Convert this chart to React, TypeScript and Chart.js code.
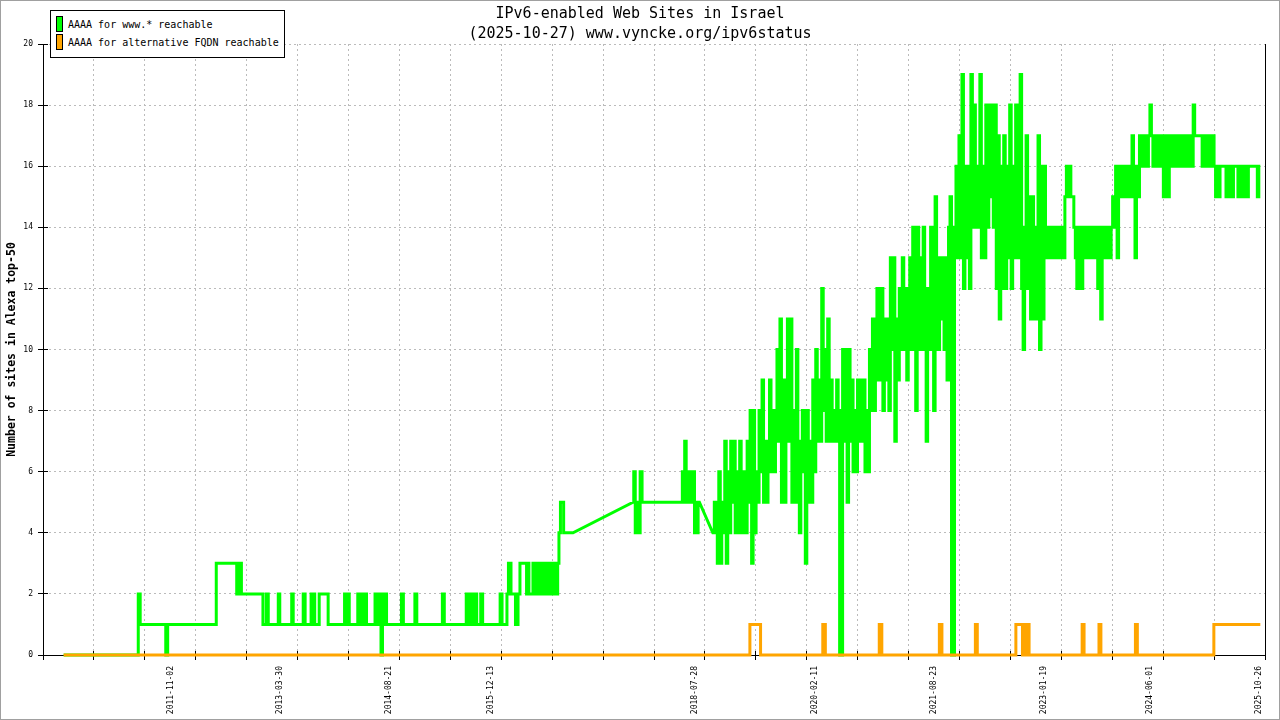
import React, { useEffect, useRef } from 'react';
import { Chart, registerables } from 'chart.js';

Chart.register(...registerables);

const MONO = '"DejaVu Sans Mono", "Liberation Mono", monospace';

// ---- texts ----
const titleLines = ['IPv6-enabled Web Sites in Israel', '(2025-10-27) www.vyncke.org/ipv6status'];
const yAxisTitle = 'Number of sites in Alexa top-50';
const seriesLabels = ['AAAA for www.* reachable', 'AAAA for alternative FQDN reachable'];
const seriesColors = ['#00ff00', '#ffa500'];

// ---- axes ----
const xTickLabels = [
  '2011-11-02', '2013-03-30', '2014-08-21', '2015-12-13', '2018-07-28',
  '2020-02-11', '2021-08-23', '2023-01-19', '2024-06-01', '2025-10-26',
];
const xAxisStart = '2010-03-13';
const xAxisEnd = '2025-11-23';
const xGridDivisions = 24;
const yMin = 0;
const yMax = 20;
const yStep = 2;

// ---- data: runs of [value, days held], starting at seriesStart ----
const seriesStart = '2010-06-18';

const greenRuns2010to2016: [number, number][] = [
  [0, 350], [2, 9], [1, 120], [0, 9], [1, 228], [3, 96], [2, 5], [3, 5], [2, 5], [3, 7], [2, 101],
  [1, 16], [2, 9], [1, 47], [2, 7], [1, 56], [2, 7], [1, 47], [2, 9], [1, 28], [2, 7], [1, 5], [2, 5], [1, 21], [2, 42],
  [1, 77], [2, 5], [1, 5], [2, 12], [1, 40], [2, 5], [1, 7], [2, 5], [1, 7], [2, 5], [1, 7], [2, 5], [1, 40], [2, 9],
  [1, 12], [2, 7], [0, 7], [2, 7], [1, 5], [2, 7],
  [1, 70], [2, 9], [1, 54], [2, 9], [1, 120], [2, 9], [1, 103], [2, 7], [1, 5], [2, 9], [1, 5], [2, 9], [1, 5], [2, 9],
  [1, 19], [2, 9], [1, 82], [2, 9], [1, 23],
  [2, 7], [3, 12], [2, 21], [1, 12], [2, 9], [3, 31],
  [2, 6], [3, 5], [2, 19], [3, 5], [2, 6], [3, 6], [2, 5], [3, 7], [2, 6], [3, 5], [2, 6], [3, 6],
  [2, 7], [3, 5], [2, 6], [3, 6], [2, 5], [3, 7], [2, 6], [3, 5], [2, 6], [3, 5], [2, 6], [3, 6],
  [4, 7], [5, 15], [4, 44],
];
const greenGap2016Days = 282;
const greenRuns2017to2018: [number, number][] = [
  [5, 3], [6, 7], [4, 7], [5, 9], [4, 7], [6, 9], [5, 189],
  [6, 6], [5, 5], [7, 7], [6, 5], [5, 5], [6, 7], [5, 5], [6, 7], [5, 5], [6, 5], [4, 7], [5, 5], [4, 5], [5, 6],
];
const greenGap2018Days = 63;
const weeklyStepDays = 7;
// weekly samples from late 2018 onwards
const greenWeeklyA = [
  4, 5, 4, 3, 6, 3, 5, 4, 7, 3,
  6, 4, 7, 5, 7, 4, 6, 4, 7, 5,
  4, 6, 4, 7, 5, 8, 3, 8, 4, 6,
  5, 8, 6, 9, 5, 7, 5, 7, 9, 6,
  8, 6, 8, 10, 7, 11, 5, 9, 5, 9,
  11, 7, 11, 5, 8, 5, 10, 6, 4, 7,
  8, 6, 3, 8, 5, 7, 5, 9, 6, 10,
  7, 9, 7, 12, 8, 10, 7, 11, 7, 9,
  7, 8, 7, 9, 8, 0, 0, 10, 7, 10,
  5, 10, 7, 9, 6, 8, 6, 9, 7, 9,
];
const greenWeeklyB = [
  7, 9, 6, 8, 6, 10, 8, 11, 8, 11,
  12, 9, 11, 12, 8, 11, 9, 11, 8, 13,
  10, 13, 7, 11, 9, 12, 10, 13, 10, 12,
  9, 12, 13, 10, 14, 11, 8, 14, 10, 13,
  10, 14, 11, 7, 12, 10, 14, 11, 8, 15,
  12, 10, 13, 11, 13, 10, 13, 9, 14, 15,
  0, 0, 14, 16, 13, 17, 13, 19, 12, 16,
  13, 16, 12, 19, 14, 18, 14, 16, 14, 19,
  13, 16, 13, 18, 14, 18, 15, 18, 14, 18,
  12, 17, 11, 16, 12, 17, 12, 16, 13, 18,
];
const greenWeeklyC = [
  12, 16, 13, 18, 13, 16, 19, 12, 10, 14,
  17, 12, 15, 11, 15, 11, 14, 11, 17, 10,
  16, 11, 16, 13, 14, 13, 14, 13, 14, 13,
  14, 13, 14, 13, 14, 13, 15, 16, 15, 16,
  15, 15, 14, 13, 12, 14, 13, 12, 14, 13,
  14, 13, 14, 13, 14, 13, 14, 13, 12, 14,
  11, 14, 13, 14, 13, 14, 13, 14, 15, 14,
  16, 13, 16, 15, 16, 15, 16, 15, 16, 15,
  16, 17, 15, 13, 16, 15, 17, 16, 17, 16,
  17, 16, 17, 18, 17, 16, 17, 16, 17, 16,
];
const greenWeeklyD = [
  17, 16, 15, 17, 16, 15, 17, 16, 17, 16,
  17, 17, 16, 17, 16, 17, 17, 16, 17, 16,
  17, 16, 18, 17, 17, 17, 17, 17, 16, 17,
  16, 17, 16, 17, 16, 17, 16, 15, 16, 15,
  16, 16, 16, 16, 15, 16, 15, 16, 15, 16,
  16, 16, 15, 16, 15, 16, 15, 16, 15, 16,
  16, 16, 16, 16, 16, 15, 16,
];

const orangeRuns: [number, number][] = [
  [0, 3220], [1, 50], [0, 292], [1, 12], [0, 253], [1, 12], [0, 270], [1, 12], [0, 157], [1, 9],
  [0, 181], [1, 31], [0, 5], [1, 7], [0, 5], [1, 14], [0, 249], [1, 9], [0, 70], [1, 9],
  [0, 162], [1, 9], [0, 359], [1, 218],
];

// ---- helpers ----
const DAY_MS = 86400000;
const toDay = (s: string) => Date.parse(s + 'T00:00:00Z') / DAY_MS;

function expandRuns(start: string, runs: [number | null, number][]) {
  const pts: { x: number; y: number }[] = [];
  let t = toDay(start);
  for (const [v, d] of runs) {
    if (v !== null) {
      pts.push({ x: t, y: v });
      pts.push({ x: t + d, y: v });
    }
    t += d;
  }
  return pts;
}

const greenAllRuns: [number | null, number][] = [
  ...greenRuns2010to2016,
  [null, greenGap2016Days],
  ...greenRuns2017to2018,
  [null, greenGap2018Days],
  ...[...greenWeeklyA, ...greenWeeklyB, ...greenWeeklyC, ...greenWeeklyD].map(
    (v) => [v, weeklyStepDays] as [number, number]
  ),
];

const labelByDay = new Map<number, string>(xTickLabels.map((d) => [toDay(d), d]));
const GRID = '#bbbbbb';
const NONE = 'rgba(0,0,0,0)';

const framePlugin = {
  id: 'gnuplotFrame',
  beforeDatasetsDraw(chart: any) {
    const { ctx, chartArea, scales } = chart;
    const xs = scales.x;
    const ys = scales.y;
    const al = (p: number) => Math.round(p - 0.5) + 0.5;
    ctx.save();
    ctx.strokeStyle = '#000';
    ctx.lineWidth = 1;
    ctx.setLineDash([]);
    ctx.beginPath();
    for (const t of xs.ticks) {
      if (labelByDay.has(t.value)) continue;
      const px = al(xs.getPixelForValue(t.value));
      ctx.moveTo(px, chartArea.bottom - 4);
      ctx.lineTo(px, chartArea.bottom + 5);
    }
    for (const t of ys.ticks) {
      const py = al(ys.getPixelForValue(t.value));
      ctx.moveTo(chartArea.left - 5, py);
      ctx.lineTo(chartArea.left + 5, py);
    }
    const rx = al(chartArea.right);
    ctx.moveTo(rx, chartArea.top);
    ctx.lineTo(rx, chartArea.bottom);
    ctx.stroke();
    ctx.restore();
  },
  afterDraw(chart: any) {
    const { ctx, width, height } = chart;
    ctx.save();
    ctx.strokeStyle = '#a0a0a0';
    ctx.lineWidth = 1;
    ctx.strokeRect(0.5, 0.5, width - 1, height - 1);
    ctx.restore();
  },
};

export default function App() {
  const ref = useRef<HTMLCanvasElement>(null);

  useEffect(() => {
    const canvas = ref.current;
    if (!canvas) return;
    const xMin = toDay(xAxisStart);
    const xMax = toDay(xAxisEnd);
    const chart = new Chart(canvas, {
      type: 'line',
      data: {
        datasets: [
          {
            label: seriesLabels[0],
            data: expandRuns(seriesStart, greenAllRuns),
            borderColor: seriesColors[0],
            backgroundColor: seriesColors[0],
            borderWidth: 3,
            pointRadius: 0,
            tension: 0,
            fill: false,
            clip: false,
            borderJoinStyle: 'miter',
            borderCapStyle: 'butt',
            order: 1,
          },
          {
            label: seriesLabels[1],
            data: expandRuns(seriesStart, orangeRuns),
            borderColor: seriesColors[1],
            backgroundColor: seriesColors[1],
            borderWidth: 3,
            pointRadius: 0,
            tension: 0,
            fill: false,
            clip: false,
            borderJoinStyle: 'miter',
            borderCapStyle: 'butt',
            order: 0,
          },
        ],
      },
      options: {
        responsive: false,
        animation: false,
        events: [],
        layout: { padding: 0 },
        plugins: {
          legend: { display: false },
          tooltip: { enabled: false },
          title: {
            display: true,
            text: titleLines,
            color: '#000',
            font: { family: MONO, size: 15, weight: 'normal', lineHeight: 20 / 15 },
            padding: { top: 4, bottom: 0 },
          },
        },
        scales: {
          x: {
            type: 'linear',
            min: xMin,
            max: xMax,
            afterBuildTicks: (scale: any) => {
              const step = (xMax - xMin) / xGridDivisions;
              const ticks: { value: number }[] = [];
              for (let k = 0; k <= xGridDivisions; k++) ticks.push({ value: xMin + k * step });
              xTickLabels.forEach((d) => ticks.push({ value: toDay(d) }));
              ticks.sort((a, b) => a.value - b.value);
              scale.ticks = ticks;
            },
            afterFit: (s: any) => {
              s.height = 65;
              s.paddingLeft = 0;
              s.paddingRight = 0;
            },
            ticks: {
              autoSkip: false,
              minRotation: 90,
              maxRotation: 90,
              padding: 11,
              color: '#000',
              font: { family: MONO, size: 8 },
              callback: (v: any) => labelByDay.get(v) ?? '',
            },
            grid: {
              drawTicks: false,
              lineWidth: 1,
              color: (c: any) => {
                if (!c.tick) return NONE;
                const v = c.tick.value;
                if (labelByDay.has(v)) return NONE;
                if (Math.abs(v - xMin) < 1e-6 || Math.abs(v - xMax) < 1e-6) return NONE;
                return GRID;
              },
            },
            border: { display: true, color: '#000', width: 1, dash: [2, 3] },
          },
          y: {
            type: 'linear',
            min: yMin,
            max: yMax,
            afterFit: (s: any) => {
              s.width = 43;
              s.paddingTop = 0;
              s.paddingBottom = 0;
            },
            ticks: {
              stepSize: yStep,
              padding: 10,
              color: '#000',
              font: { family: MONO, size: 8 },
            },
            grid: {
              drawTicks: false,
              lineWidth: 1,
              color: (c: any) => (c.tick && c.tick.value !== yMin ? GRID : NONE),
            },
            border: { display: true, color: '#000', width: 1, dash: [2, 3] },
            title: {
              display: true,
              text: yAxisTitle,
              color: '#000',
              font: { family: MONO, size: 11.5, weight: 'bold' },
              padding: { top: 5, bottom: 0 },
            },
          },
          y2: {
            type: 'linear',
            position: 'right',
            display: true,
            grid: { display: false },
            border: { display: false },
            ticks: { display: false },
            afterFit: (s: any) => {
              s.width = 15;
              s.paddingTop = 0;
              s.paddingBottom = 0;
            },
          },
        },
      },
      plugins: [framePlugin],
    } as any);
    return () => chart.destroy();
  }, []);

  return (
    <div style={{ position: 'absolute', left: 0, top: 0, width: 1280, height: 720, background: '#fff' }}>
      <canvas ref={ref} width={1280} height={720} style={{ display: 'block', width: 1280, height: 720 }} />
      <div
        style={{
          position: 'absolute',
          left: 50,
          top: 10,
          width: 235,
          height: 48,
          boxSizing: 'border-box',
          border: '1px solid #000',
          background: '#fff',
          fontFamily: MONO,
          fontSize: 10,
          color: '#000',
        }}
      >
        {seriesLabels.map((lab, i) => (
          <div
            key={lab}
            style={{ position: 'absolute', left: 5, top: 5 + i * 18, height: 16, display: 'flex', alignItems: 'center' }}
          >
            <span
              style={{
                display: 'inline-block',
                width: 7,
                height: 16,
                boxSizing: 'border-box',
                border: '1px solid #000',
                background: seriesColors[i],
              }}
            />
            <span style={{ marginLeft: 5, whiteSpace: 'pre', lineHeight: '16px', paddingTop: 2 }}>{lab}</span>
          </div>
        ))}
      </div>
    </div>
  );
}
